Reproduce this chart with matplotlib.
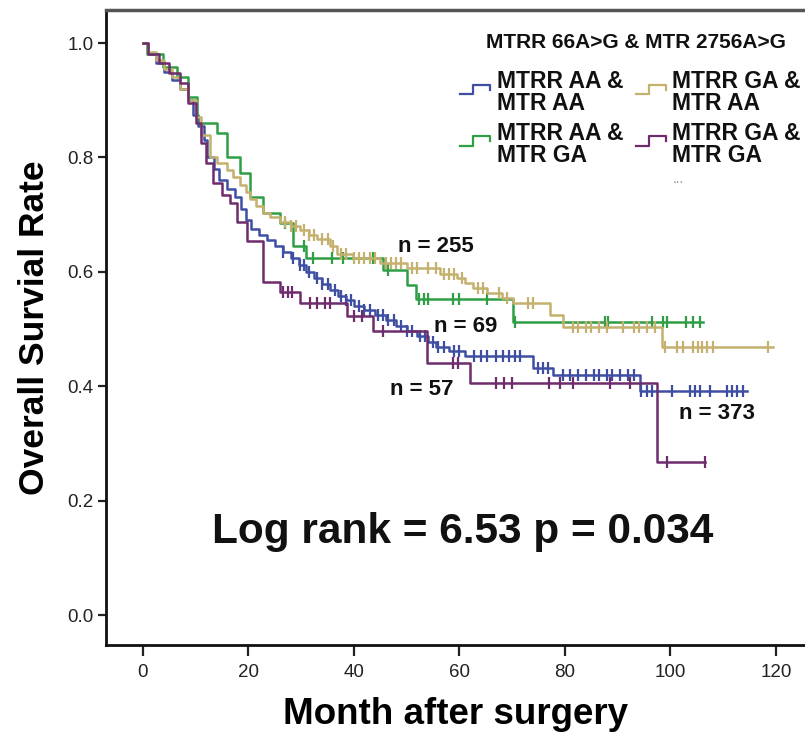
import numpy as np
import matplotlib
matplotlib.use("Agg")
import matplotlib.pyplot as plt
from matplotlib.lines import Line2D
from matplotlib.legend_handler import HandlerBase

plt.rcParams['font.family'] = ['Liberation Sans', 'DejaVu Sans']

# ---------------- data ----------------
group_labels = ["MTRR AA &\nMTR AA", "MTRR AA &\nMTR GA",
                "MTRR GA &\nMTR AA", "MTRR GA &\nMTR GA"]
group_colors = ["#3E4FA3", "#2F9E45", "#C4B16E", "#6E2C6C"]
group_n = ["n = 373", "n = 69", "n = 255", "n = 57"]
legend_title = "MTRR 66A>G & MTR 2756A>G"

# MTRR AA & MTR AA (blue)
blue_t = [0, 1, 2.5, 4, 5.5, 7, 8.5, 9.5, 10.5, 11.5, 12.2, 13.5, 14.5, 16, 17.5,
          18.5, 19.5, 20.5, 22, 23.5, 25, 26.5, 28, 29.5, 31, 32.5, 34, 35.5, 37,
          38.5, 40, 42, 44, 46, 48, 50, 52, 54, 55.5, 58, 61, 73.9, 77.7, 94.2]
blue_s = [1.0, 0.98, 0.965, 0.95, 0.935, 0.92, 0.9, 0.875, 0.855, 0.83, 0.8, 0.78,
          0.76, 0.745, 0.73, 0.71, 0.69, 0.675, 0.665, 0.655, 0.645, 0.635, 0.625,
          0.612, 0.6, 0.59, 0.578, 0.568, 0.558, 0.55, 0.54, 0.533, 0.524, 0.515,
          0.505, 0.497, 0.487, 0.478, 0.469, 0.462, 0.453, 0.431, 0.42, 0.392]
blue_end = 114.5
blue_c = [26.5, 28.5, 29.8, 30.5, 31.5, 33, 34, 35, 36.5, 37.5, 38.5, 39.5, 41, 42,
          43, 44.5, 45.5, 46.5, 47.5, 49, 50, 51, 52.5, 53.5, 55, 56, 57, 59, 60,
          62.8, 64, 65.2, 67, 68.2, 69.4, 70.5, 71.5, 74.8, 75.8, 76.8, 79.6, 81,
          82.5, 84, 85.5, 86.5, 88, 89, 90.5, 92, 93, 94.5, 95.5, 96.5, 100.3,
          103.7, 104.7, 105.6, 107.5, 110.7, 111.7, 112.7, 113.7]

# MTRR AA & MTR GA (green)
green_t = [0, 0.7, 3.8, 6.4, 8.5, 10.2, 14, 15.9, 18.4, 20.3, 22.7, 26, 28.4, 31,
           45.5, 50, 51.8, 70.1]
green_s = [1.0, 0.98, 0.958, 0.94, 0.906, 0.86, 0.842, 0.8, 0.772, 0.731, 0.703,
           0.685, 0.645, 0.624, 0.603, 0.577, 0.552, 0.513]
green_end = 106.2
green_c = [27, 30.5, 32.3, 35.8, 38, 43.6, 46.5, 52.3, 53.2, 54, 58.8, 60, 65.2,
           70.5, 87.6, 88.2, 96.5, 98.6, 99.3, 103, 104.3, 105.6]

# MTRR GA & MTR AA (tan)
tan_t = [0, 1, 2.5, 4, 5.5, 7, 8.5, 10, 11, 12.7, 14, 15.9, 17, 18.4, 19.5, 20.3,
         21.5, 22.7, 24, 26, 28, 29.8, 31.5, 33, 35.5, 36.8, 39.8, 45, 50, 56.3,
         59.5, 61, 62.6, 65.2, 68, 70.1, 77.2, 79.6, 98.4]
tan_s = [1.0, 0.985, 0.97, 0.955, 0.94, 0.92, 0.9, 0.87, 0.84, 0.8, 0.79, 0.778,
         0.765, 0.752, 0.74, 0.728, 0.715, 0.703, 0.695, 0.687, 0.68, 0.673, 0.665,
         0.657, 0.645, 0.632, 0.624, 0.615, 0.606, 0.597, 0.589, 0.58, 0.571,
         0.563, 0.555, 0.545, 0.524, 0.503, 0.469]
tan_end = 119.4
tan_c = [27, 28, 29, 30.5, 31.5, 32.5, 34, 35, 36, 37.5, 38.5, 40, 41, 42, 43, 44,
         46, 47, 48, 49, 51, 52, 54, 55.5, 57, 58, 59, 60.5, 63.5, 64.5, 67.5, 69,
         73, 74, 81.5, 82.5, 84, 85, 86.5, 88, 91, 93, 94, 95.5, 97, 99, 101.2,
         102.4, 104.3, 105.2, 106, 107, 108, 118.5]

# MTRR GA & MTR GA (purple)
purple_t = [0, 1, 3, 5, 7, 8.5, 10, 11, 12, 13.3, 15, 16.5, 17.8, 19.7, 22.7, 26,
            29.8, 38.6, 43.6, 53.8, 62, 97.4]
purple_s = [1.0, 0.98, 0.965, 0.947, 0.93, 0.895, 0.86, 0.825, 0.79, 0.755, 0.735,
            0.72, 0.687, 0.653, 0.583, 0.565, 0.545, 0.522, 0.497, 0.44, 0.405,
            0.268]
purple_end = 106.5
purple_c = [26.5, 27.5, 28.2, 31.7, 33, 34.5, 35.5, 40, 41.5, 45.5, 58.8, 59.8, 67,
            68.5, 70, 77, 79, 81.5, 88.5, 92.3, 99.3, 106.5]

groups = [
    (blue_t, blue_s, blue_end, blue_c),
    (green_t, green_s, green_end, green_c),
    (tan_t, tan_s, tan_end, tan_c),
    (purple_t, purple_s, purple_end, purple_c),
]

# label positions (data coords, left / vertical center)
n_label_pos = [(101.6, 0.353), (55.2, 0.504), (48.3, 0.645), (46.8, 0.395)]

x_ticks = [0, 20, 40, 60, 80, 100, 120]
y_ticks = [0.0, 0.2, 0.4, 0.6, 0.8, 1.0]

# ---------------- figure ----------------
W, H = 805, 734
fig = plt.figure(figsize=(W / 100, H / 100), dpi=100)
ax = fig.add_axes([106 / W, (H - 645) / H, (W - 106) / W, 635 / H])

handles = []
for (t, s, tend, cens), col, lab in zip(groups, group_colors, group_labels):
    t = np.asarray(t, float)
    s = np.asarray(s, float)
    tt = np.append(t, tend)
    ss = np.append(s, s[-1])
    ln, = ax.step(tt, ss, where='post', color=col, lw=1.8, label=lab)
    c = np.asarray(cens, float)
    idx = np.searchsorted(t, c, side='right') - 1
    ax.plot(c, s[idx], ls='none', marker='|', ms=9, mew=1.6, color=col)
    handles.append(ln)

for (x, y), txt in zip(n_label_pos, group_n):
    ax.text(x, y, txt, fontsize=16, fontweight='bold', ha='left', va='center',
            color='#111111')

ax.text(60.6, 0.126, "Log rank = 6.53 p = 0.034", fontsize=30.5, fontweight='bold',
        ha='center', va='baseline', color='#111111')
ax.text(101.5, 0.755, "...", fontsize=10, color='#999999', ha='center')

ax.set_xlim(-7, 125.5)
ax.set_ylim(-0.0524, 1.0577)
ax.set_xticks(x_ticks)
ax.set_xticklabels([str(v) for v in x_ticks])
ax.set_yticks(y_ticks)
ax.set_yticklabels([f"{v:.1f}" for v in y_ticks])
ax.tick_params(axis='x', direction='out', length=8, width=1.6, labelsize=13.5,
               pad=6, colors='#222222')
ax.tick_params(axis='y', direction='out', length=6, width=1.6, labelsize=13.5,
               pad=3, colors='#222222')
for side in ['left', 'bottom']:
    ax.spines[side].set_linewidth(2)
    ax.spines[side].set_color('#111111')
ax.spines['top'].set_linewidth(2.5)
ax.spines['top'].set_color('#555555')
ax.spines['right'].set_visible(False)

ax.set_xlabel("Month after surgery", fontsize=26.5, fontweight='bold', labelpad=11)
ax.set_ylabel("Overall Survial Rate", fontsize=25.5, fontweight='bold', labelpad=12)


class StepHandler(HandlerBase):
    def create_artists(self, legend, orig_handle, xdescent, ydescent, width,
                       height, fontsize, trans):
        x0, y0 = -xdescent, -ydescent
        xs = [x0, x0 + 0.45 * width, x0 + 0.45 * width, x0 + width, x0 + width]
        ys = [y0 + 0.45 * height, y0 + 0.45 * height, y0 + 1.05 * height,
              y0 + 1.05 * height, y0 + 0.75 * height]
        ln = Line2D(xs, ys, color=orig_handle.get_color(), lw=1.6, transform=trans)
        return [ln]


fig.text(636 / W, 1 - 43 / H, legend_title, fontsize=15, fontweight='bold',
         ha='center', va='center', color='#111111')

leg = ax.legend(handles, group_labels,
                ncol=2, frameon=False, loc='upper left',
                bbox_to_anchor=(460 / W, 1 - 70 / H), bbox_transform=fig.transFigure,
                prop={'size': 16.5, 'weight': 'bold'},
                handler_map={Line2D: StepHandler()},
                handlelength=1.3, handletextpad=0.3, columnspacing=0.55,
                labelspacing=0.28, borderpad=0.0, borderaxespad=0)
for t in leg.get_texts():
    t.set_linespacing(0.95)
    t.set_color('#111111')

fig.savefig("out.png", dpi=100)
